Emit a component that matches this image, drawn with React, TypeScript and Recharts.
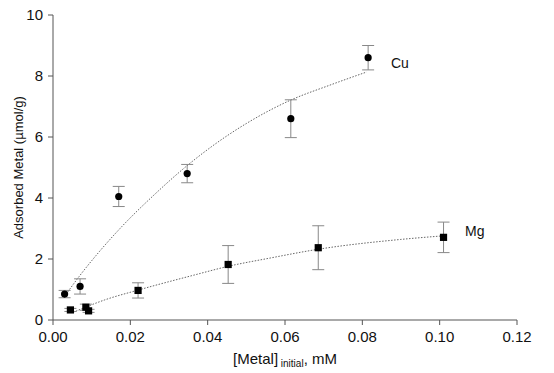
import React from 'react';
import { ComposedChart, Scatter, Line, XAxis, YAxis, ErrorBar, Label } from 'recharts';

const cuX = [0.003, 0.007, 0.017, 0.0347, 0.0615, 0.0815];
const cuY = [0.85, 1.1, 4.05, 4.8, 6.6, 8.6];
const cuErr = [0.12, 0.25, 0.33, 0.3, 0.62, 0.4];

const mgX = [0.0045, 0.0085, 0.0092, 0.022, 0.0453, 0.0686, 0.101];
const mgY = [0.33, 0.42, 0.3, 0.97, 1.82, 2.37, 2.71];
const mgErr = [0.05, 0.1, 0.05, 0.25, 0.62, 0.72, 0.5];

const cuFitX = [0.0029, 0.0069, 0.0117, 0.0177, 0.0263, 0.0341, 0.0414, 0.0501, 0.0613, 0.0716, 0.0811];
const cuFitY = [0.76, 1.45, 2.2, 3.05, 4.12, 5.0, 5.72, 6.45, 7.2, 7.7, 8.13];

const mgFitX = [0.0052, 0.0134, 0.022, 0.0367, 0.0453, 0.0561, 0.0686, 0.0898, 0.101];
const mgFitY = [0.25, 0.66, 0.98, 1.48, 1.76, 2.03, 2.32, 2.64, 2.76];

const xTicks = [0, 0.02, 0.04, 0.06, 0.08, 0.1, 0.12];
const yTicks = [0, 2, 4, 6, 8, 10];

const cuData = cuX.map((x, i) => ({ x, y: cuY[i], err: cuErr[i] }));
const mgData = mgX.map((x, i) => ({ x, y: mgY[i], err: mgErr[i] }));
const cuFit = cuFitX.map((x, i) => ({ x, y: cuFitY[i] }));
const mgFit = mgFitX.map((x, i) => ({ x, y: mgFitY[i] }));

const FONT = 'Liberation Sans, Arial, Helvetica, sans-serif';

const Circle = (p: any) => <circle cx={p.cx} cy={p.cy} r={3.6} fill="#000" />;
const Square = (p: any) => <rect x={p.cx - 3.6} y={p.cy - 3.6} width={7.2} height={7.2} fill="#000" />;

const XLabel = (props: any) => {
  const vb = props.viewBox;
  const cx = vb.x + vb.width / 2;
  return (
    <text x={cx} y={364} textAnchor="middle" fontFamily={FONT} fontSize={15} fill="#111">
      <tspan>[Metal]</tspan>
      <tspan fontSize={10} dy={3}> initial</tspan>
      <tspan dy={-3}>, mM</tspan>
    </text>
  );
};

const YLabel = (props: any) => {
  const vb = props.viewBox;
  const cy = vb.y + vb.height / 2;
  return (
    <text x={18} y={cy} transform={`rotate(-90 18 ${cy})`} textAnchor="middle" dominantBaseline="central" fontFamily={FONT} fontSize={13} fill="#111">
      Adsorbed Metal (µmol/g)
    </text>
  );
};

export default function App() {
  return (
    <div style={{ position: 'absolute', left: 0, top: 0, width: 554, height: 373, background: '#fff' }}>
      <ComposedChart width={554} height={373} margin={{ top: 15, right: 37, bottom: 13, left: 8 }}>
        <XAxis
          type="number"
          dataKey="x"
          domain={[0, 0.12]}
          ticks={xTicks}
          tickFormatter={(v: number) => v.toFixed(2)}
          height={40}
          stroke="#555"
          tickSize={5}
          tickMargin={6}
          tick={{ fill: '#111', fontSize: 15, fontFamily: FONT }}
          allowDataOverflow
        >
          <Label content={<XLabel />} />
        </XAxis>
        <YAxis
          type="number"
          dataKey="y"
          domain={[0, 10]}
          ticks={yTicks}
          width={45}
          stroke="#555"
          tickSize={5}
          tickMargin={5}
          tick={{ fill: '#111', fontSize: 15, fontFamily: FONT }}
          allowDataOverflow
        >
          <Label content={<YLabel />} />
        </YAxis>
        <Line data={cuFit} dataKey="y" type="monotone" stroke="#666" strokeWidth={1} strokeDasharray="1.5 1.5" dot={false} activeDot={false} isAnimationActive={false} />
        <Line data={mgFit} dataKey="y" type="monotone" stroke="#666" strokeWidth={1} strokeDasharray="1.5 1.5" dot={false} activeDot={false} isAnimationActive={false} />
        <Scatter data={cuData} dataKey="y" shape={<Circle />} isAnimationActive={false}>
          <ErrorBar dataKey="err" direction="y" width={6} stroke="#888" strokeWidth={1} isAnimationActive={false} />
        </Scatter>
        <Scatter data={mgData} dataKey="y" shape={<Square />} isAnimationActive={false}>
          <ErrorBar dataKey="err" direction="y" width={6} stroke="#888" strokeWidth={1} isAnimationActive={false} />
        </Scatter>
        <text x={391} y={68} fontFamily={FONT} fontSize={14} fill="#111">Cu</text>
        <text x={465} y={236} fontFamily={FONT} fontSize={14} fill="#111">Mg</text>
      </ComposedChart>
    </div>
  );
}
